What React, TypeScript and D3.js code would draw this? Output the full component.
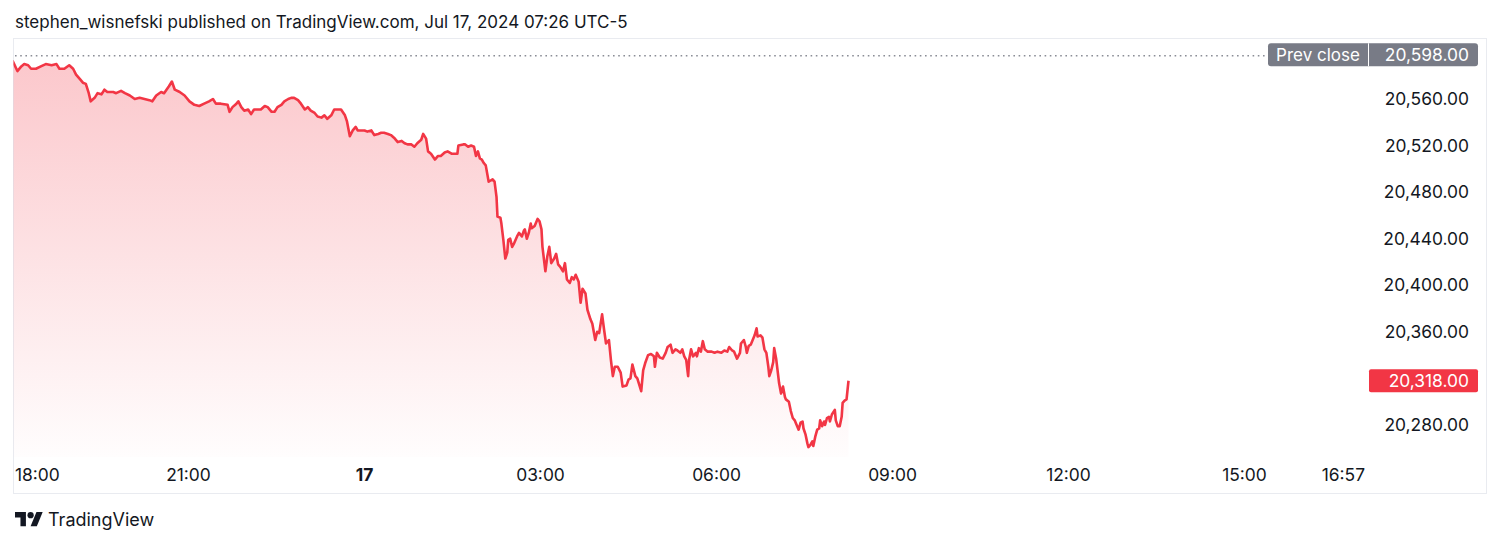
import React from 'react';
import * as d3 from 'd3';

// minutes after 18:00 (Jul 16, UTC-5)
const minutes = [
  0,5,9,12,16,19,24,29,34,40,
  45,48,53,58,62,65,69,72,75,78,
  80,84,87,91,94,97,103,106,111,115,
  120,125,130,135,140,143,147,152,155,160,
  163,166,171,176,181,186,191,196,201,205,
  208,213,220,222,225,229,231,234,237,241,
  244,247,251,254,258,261,265,268,271,275,
  278,282,285,288,292,295,299,302,305,309,
  312,316,319,322,326,329,333,336,340,342,
  345,348,351,353,357,360,363,367,370,374,
  377,380,384,387,391,394,398,401,404,408,
  411,414,418,420,423,425,428,432,435,438,
  442,445,449,452,455,456,461,463,466,469,
  472,474,476,478,480,482,484,487,489,491,
  493,495,496,499,500,502,504,506,507,509,
  511,513,516,518,521,523,524,526,528,530,
  531,534,537,539,541,542,545,547,549,551,
  554,556,558,560,563,565,567,570,572,574,
  576,579,581,583,586,588,591,593,596,598,
  600,603,605,607,610,612,614,616,619,622,
  624,628,630,632,634,637,639,643,645,647,
  650,653,656,657,659,662,665,668,670,673,
  675,678,680,683,685,687,689,691,692,694,
  696,699,700,702,704,706,708,711,715,718,
  721,725,728,731,733,736,738,741,744,745,
  748,750,751,753,755,757,759,761,762,765,
  767,769,771,773,774,776,778,779,781,783,
  784,786,788,790,791,794,796,798,800,801,
  804,806,808,809,811,813,814,816,818,819,
  821,823,825,826,828,830,831,833,835,836,
  838,841,842,844,846,848,849,851,853,855,
];

const prices = [
  20593,20584,20588,20590,20589,20586,20586,20588,20590,20589,
  20590,20586,20586,20589,20586,20581,20577,20574,20573,20565,
  20558,20561,20565,20564,20568,20566,20566,20565,20567,20565,
  20563,20560,20561,20560,20559,20558,20563,20566,20565,20571,
  20575,20568,20566,20563,20558,20555,20554,20556,20558,20560,
  20556,20556,20555,20549,20553,20556,20558,20553,20550,20551,
  20547,20551,20551,20551,20554,20553,20549,20549,20553,20555,
  20558,20560,20561,20561,20559,20556,20551,20553,20550,20548,
  20545,20544,20546,20543,20546,20551,20551,20551,20546,20541,
  20528,20533,20536,20533,20533,20533,20532,20533,20529,20530,
  20531,20531,20530,20529,20526,20523,20524,20522,20521,20521,
  20519,20522,20525,20530,20526,20515,20513,20508,20511,20511,
  20514,20515,20513,20513,20513,20520,20521,20521,20519,20520,
  20519,20511,20515,20509,20508,20505,20503,20489,20490,20491,
  20489,20476,20459,20458,20453,20439,20423,20428,20439,20440,
  20433,20436,20442,20445,20442,20447,20448,20440,20445,20453,
  20449,20451,20457,20455,20448,20433,20412,20425,20433,20419,
  20423,20427,20418,20416,20412,20419,20405,20402,20407,20405,
  20409,20403,20385,20397,20393,20379,20371,20367,20353,20360,
  20359,20375,20362,20350,20353,20336,20322,20330,20330,20325,
  20313,20314,20319,20320,20332,20322,20320,20309,20327,20333,
  20340,20341,20339,20330,20342,20338,20337,20342,20347,20349,
  20342,20345,20344,20342,20345,20339,20336,20322,20336,20345,
  20339,20342,20339,20346,20343,20352,20345,20343,20343,20342,
  20343,20342,20344,20343,20347,20344,20343,20337,20342,20350,
  20353,20347,20342,20348,20349,20353,20357,20363,20356,20357,
  20355,20345,20342,20330,20322,20327,20334,20346,20337,20323,
  20316,20307,20313,20304,20302,20300,20292,20286,20284,20282,
  20276,20282,20283,20277,20272,20264,20261,20263,20266,20262,
  20270,20276,20277,20284,20279,20283,20280,20286,20287,20283,
  20289,20293,20284,20279,20279,20287,20299,20301,20302,20318,
];

const xTickLabels = ['18:00', '21:00', '17', '03:00', '06:00', '09:00', '12:00', '15:00', '16:57'];
const xTickMinutes = [0, 180, 360, 540, 720, 900, 1080, 1260, 1377];
const yTickValues = [20280, 20320, 20360, 20400, 20440, 20480, 20520, 20560, 20600];
const prevClose = 20598;
const lastPrice = 20318;
const titleText = 'stephen_wisnefski published on TradingView.com, Jul 17, 2024 07:26 UTC-5';

const FONT = "Inter, 'Noto Sans', sans-serif";
const TEXT = '#131722';
const RED = '#f23645';
const GREY = '#787b86';

export default function App() {
  const W = 1500, H = 544;
  const frameL = 13, frameT = 38, frameR = 1486, frameB = 493;
  const plotR = 1366, plotB = 457;
  const AX = 17.4;

  const x = d3.scaleLinear().domain([0, 1380]).range([12.5, 12.5 + 23 * 58.667]);
  const y = d3.scaleLinear().domain([20280, 20560]).range([425, 99]);
  const fmt = d3.format(',.2f');

  const n = Math.min(minutes.length, prices.length);
  const data = d3.range(n).map(i => ({ m: minutes[i], p: prices[i] }));
  const lineGen = d3.line<{ m: number; p: number }>().x(d => x(d.m)).y(d => y(d.p));
  const areaGen = d3.area<{ m: number; p: number }>().x(d => x(d.m)).y0(plotB).y1(d => y(d.p));

  const prevY = y(prevClose);
  const lastY = y(lastPrice);
  const labelX = 1469;
  const yTicks = yTickValues.filter(v => Math.abs(y(v) - prevY) > 14 && Math.abs(y(v) - lastY) > 14 && y(v) > frameT && y(v) < plotB);

  const xLabel = (m: number, i: number) => {
    const cx = x(m);
    const halfW = xTickLabels[i].length * 5;
    if (cx - halfW < 15) return { x: 15, anchor: 'start' };
    if (cx + halfW > plotR) return { x: plotR - 1, anchor: 'end' };
    return { x: cx, anchor: 'middle' };
  };

  return (
    <svg width={W} height={H} style={{ position: 'absolute', left: 0, top: 0, background: '#fff' }} fontFamily={FONT}>
      <defs>
        <linearGradient id="areaGrad" gradientUnits="userSpaceOnUse" x1="0" x2="0" y1={prevY} y2={plotB}>
          <stop offset="0" stopColor={RED} stopOpacity={0.28} />
          <stop offset="1" stopColor={RED} stopOpacity={0.01} />
        </linearGradient>
        <clipPath id="plotClip">
          <rect x={frameL + 0.5} y={frameT} width={plotR - frameL} height={plotB - frameT} />
        </clipPath>
      </defs>
      <rect x={0} y={0} width={W} height={H} fill="#fff" />
      <text x={15} y={28} fontSize={17} fill={TEXT}>{titleText}</text>

      <rect x={frameL + 0.5} y={frameT + 0.5} width={frameR - frameL} height={frameB - frameT} fill="none" stroke="#e9ebf0" strokeWidth={1} />

      <line x1={15} x2={1266} y1={prevY + 1} y2={prevY + 1} stroke="#8a8d96" strokeWidth={1.6} strokeDasharray="1.6 3.6" />

      <g clipPath="url(#plotClip)">
        <path d={areaGen(data) || ''} fill="url(#areaGrad)" />
        <path d={lineGen(data) || ''} fill="none" stroke={RED} strokeWidth={2.6} strokeLinejoin="round" />
      </g>

      {yTicks.map(v => (
        <text key={v} x={labelX} y={y(v) + 6} fontSize={AX} fill={TEXT} textAnchor="end">{fmt(v)}</text>
      ))}

      <rect x={1268} y={prevY - 11.5} width={210} height={23} rx={3} fill={GREY} />
      <line x1={1368.5} x2={1368.5} y1={prevY - 11.5} y2={prevY + 11.5} stroke="#fff" strokeWidth={1} />
      <text x={1318} y={prevY + 6} fontSize={17} fill="#fff" textAnchor="middle">Prev close</text>
      <text x={labelX} y={prevY + 6} fontSize={AX} fill="#fff" textAnchor="end">{fmt(prevClose)}</text>

      <rect x={1369} y={lastY - 11.5} width={109} height={23} rx={2} fill={RED} />
      <text x={labelX} y={lastY + 6} fontSize={AX} fill="#fff" textAnchor="end">{fmt(lastPrice)}</text>

      {xTickMinutes.map((m, i) => {
        const p = xLabel(m, i);
        return (
          <text key={i} x={p.x} y={481} fontSize={AX} fill={TEXT} textAnchor={p.anchor as any} fontWeight={xTickLabels[i] === '17' ? 700 : 400}>{xTickLabels[i]}</text>
        );
      })}

      <g transform="translate(15,509) scale(0.78)" fill={TEXT}>
        <path d="M14 22H7V11H0V4h14v18z" />
        <path d="M28 22h-8l7.5-18h8L28 22z" />
        <circle cx={20} cy={8} r={4} />
      </g>
      <text x={48} y={526} fontSize={18} fill={TEXT}>TradingView</text>
    </svg>
  );
}
